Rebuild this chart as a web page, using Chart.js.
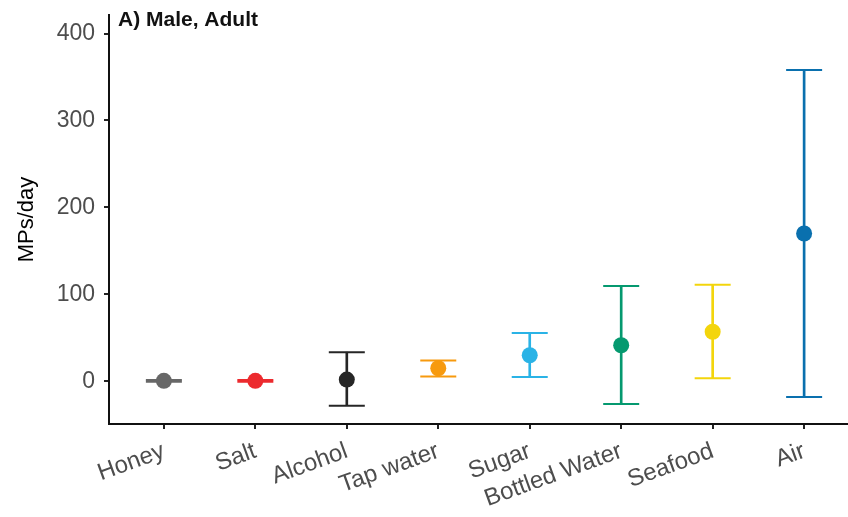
<!DOCTYPE html>
<html>
<head>
<meta charset="utf-8">
<script src="https://cdn.jsdelivr.net/npm/chart.js@4/dist/chart.umd.min.js"></script>
<style>
  html, body { margin: 0; padding: 0; background: #fff; overflow: hidden; }
  #wrap { position: relative; width: 870px; height: 517px; }
</style>
</head>
<body>
<div id="wrap"><canvas id="c" width="870" height="517"></canvas></div>
<script>
// Daily microplastic intake by source (male adult): mean with lower/upper bounds
const categories = ['Honey', 'Salt', 'Alcohol', 'Tap water', 'Sugar', 'Bottled Water', 'Seafood', 'Air'];
const meanValues = [0.5, 0.5, 2, 15, 30, 41.5, 57, 170];
const lowerValues = [-0.5, -0.5, -28, 5.5, 5, -26, 3.5, -18];
const upperValues = [1.5, 1.5, 33.5, 24, 55.5, 109.5, 111, 358];
const yTicks = [0, 100, 200, 300, 400];
const colors = ['#676767', '#EC2A2E', '#262626', '#F79A0E', '#2AB3E6', '#05996F', '#F3D50C', '#0A70AE'];

const FONT = "'Liberation Sans', Arial, sans-serif";

const panelLabel = {
  id: 'panelLabel',
  afterDraw(chart) {
    const ctx = chart.ctx;
    ctx.save();
    ctx.font = 'bold 21px ' + FONT;
    ctx.fillStyle = '#111';
    ctx.textBaseline = 'alphabetic';
    ctx.textAlign = 'left';
    ctx.fillText('A) Male, Adult', chart.chartArea.left + 9, 26);
    ctx.restore();
  }
};

new Chart(document.getElementById('c'), {
  type: 'scatter',
  data: {
    datasets: [
      {
        label: 'mean',
        data: categories.map((c, i) => ({ x: i, y: meanValues[i] })),
        pointStyle: 'circle',
        pointRadius: 8,
        pointHoverRadius: 8,
        backgroundColor: colors,
        borderWidth: 0
      },
      {
        label: 'caps',
        data: categories.flatMap((c, i) => [{ x: i, y: lowerValues[i] }, { x: i, y: upperValues[i] }]),
        pointStyle: 'line',
        pointRadius: 18,
        pointHoverRadius: 18,
        borderColor: categories.flatMap((c, i) => [colors[i], colors[i]]),
        borderWidth: 2
      },
      {
        type: 'bar',
        label: 'range',
        data: categories.map((c, i) => ({ x: i, y: [lowerValues[i], upperValues[i]] })),
        backgroundColor: colors,
        barThickness: 2,
        borderWidth: 0
      }
    ]
  },
  options: {
    responsive: false,
    animation: false,
    devicePixelRatio: 1,
    layout: { autoPadding: false, padding: { top: 15, right: 11, left: 0, bottom: 0 } },
    plugins: { legend: { display: false }, tooltip: { enabled: false } },
    scales: {
      x: {
        type: 'linear',
        offset: false,
        min: -0.6,
        max: 7.6,
        afterBuildTicks: (s) => { s.ticks = categories.map((c, i) => ({ value: i })); },
        afterFit: (s) => { s.height = 93; s.paddingLeft = 0; s.paddingRight = 0; },
        ticks: {
          autoSkip: false,
          minRotation: 20,
          maxRotation: 20,
          padding: 8,
          color: '#4d4d4d',
          font: { family: FONT, size: 24 },
          callback: (v) => categories[v]
        },
        grid: { display: true, offset: false, drawOnChartArea: false, drawTicks: true, tickLength: 5, color: '#222', lineWidth: 2 },
        border: { display: true, color: '#111', width: 2 }
      },
      y: {
        min: -49.1,
        max: 421.3,
        afterBuildTicks: (s) => { s.ticks = yTicks.map(v => ({ value: v })); },
        afterFit: (s) => { s.width = 109; s.paddingTop = 0; s.paddingBottom = 0; },
        ticks: {
          padding: 9,
          color: '#4d4d4d',
          font: { family: FONT, size: 23 }
        },
        title: {
          display: true,
          text: 'MPs/day',
          color: '#000',
          font: { family: FONT, size: 22 },
          padding: { top: 14, bottom: 0 }
        },
        grid: { display: true, drawOnChartArea: false, drawTicks: true, tickLength: 5, color: '#222', lineWidth: 2 },
        border: { display: true, color: '#111', width: 2 }
      }
    }
  },
  plugins: [panelLabel]
});
</script>
</body>
</html>
